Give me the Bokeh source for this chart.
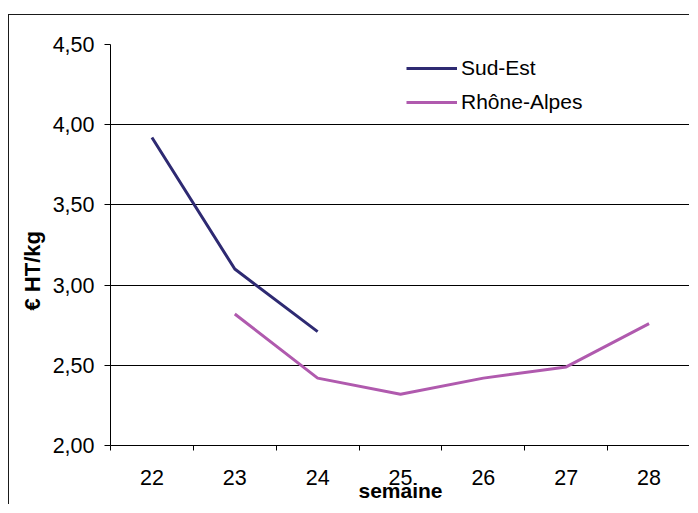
from bokeh.plotting import figure
from bokeh.models import FixedTicker, Range1d, Legend, LegendItem
from bokeh.embed import file_html
from bokeh.resources import INLINE

weeks_sud_est = [22, 23, 24]
sud_est = [3.92, 3.10, 2.71]
weeks_rhone = [23, 24, 25, 26, 27, 28]
rhone_alpes = [2.82, 2.42, 2.32, 2.42, 2.49, 2.76]

x_ticks = [22, 23, 24, 25, 26, 27, 28]
y_ticks = [2.0, 2.5, 3.0, 3.5, 4.0, 4.5]
y_tick_labels = ["2,00", "2,50", "3,00", "3,50", "4,00", "4,50"]

FONT = "Liberation Sans"

p = figure(width=681, height=490, output_backend="svg", toolbar_location=None,
           x_range=Range1d(21.5, 28.5), y_range=Range1d(2.0, 4.5),
           title="€ HT/kg", title_location="left")
p.styles = {"margin-left": "8px", "margin-top": "14px",
            "border-left": "1px solid #1a1a1a", "border-top": "1px solid #1a1a1a"}
p.min_border_left = 101
p.min_border_top = 29
p.min_border_right = 0
p.min_border_bottom = 60
p.outline_line_color = None
p.background_fill_color = "white"
p.border_fill_color = "white"

# y-axis title (as left title so it can be offset like the original)
p.title.align = "left"
p.title.offset = 135
p.title.standoff = 10
p.title.text_font = FONT
p.title.text_font_size = "22px"
p.title.text_font_style = "bold"
p.title.text_color = "black"

p.xgrid.visible = False
p.ygrid.ticker = FixedTicker(ticks=y_ticks)
p.ygrid.grid_line_color = "black"
p.ygrid.grid_line_width = 1

# x axis
p.xaxis.ticker = FixedTicker(ticks=x_ticks, minor_ticks=[t - 0.5 for t in x_ticks] + [x_ticks[-1] + 0.5])
p.xaxis.major_tick_in = 0
p.xaxis.major_tick_out = 0
p.xaxis.minor_tick_in = 0
p.xaxis.minor_tick_out = 5
p.xaxis.minor_tick_line_color = "black"
p.xaxis.axis_line_color = "black"
p.xaxis.major_label_text_font = FONT
p.xaxis.major_label_text_font_size = "21.5px"
p.xaxis.major_label_text_color = "black"
p.xaxis.major_label_standoff = 19
p.xaxis.axis_label = "semaine"
p.xaxis.axis_label_text_font = FONT
p.xaxis.axis_label_text_font_size = "21px"
p.xaxis.axis_label_text_font_style = "bold"
p.xaxis.axis_label_text_color = "black"
p.xaxis.axis_label_standoff = -9

# y axis
p.yaxis.ticker = FixedTicker(ticks=y_ticks)
p.yaxis.major_label_overrides = dict(zip(y_ticks, y_tick_labels))
p.yaxis.major_tick_in = 0
p.yaxis.major_tick_out = 6
p.yaxis.minor_tick_line_color = None
p.yaxis.axis_line_color = "black"
p.yaxis.major_tick_line_color = "black"
p.yaxis.major_label_text_font = FONT
p.yaxis.major_label_text_font_size = "21.5px"
p.yaxis.major_label_text_color = "black"
p.yaxis.major_label_standoff = 10

r1 = p.line(weeks_sud_est, sud_est, line_color="#2E2A72", line_width=3)
r2 = p.line(weeks_rhone, rhone_alpes, line_color="#B05AAE", line_width=3)

legend = Legend(items=[LegendItem(label="Sud-Est", renderers=[r1]),
                       LegendItem(label="Rhône-Alpes", renderers=[r2])],
                location=(296, 331))
legend.border_line_color = None
legend.background_fill_alpha = 0
legend.padding = 0
legend.margin = 0
legend.glyph_width = 51
legend.glyph_height = 20
legend.label_height = 20
legend.spacing = 10
legend.label_standoff = 4
legend.label_text_font = FONT
legend.label_text_font_size = "21px"
legend.label_text_color = "black"
p.add_layout(legend, "center")

open("out.html", "w").write(file_html(p, INLINE))
